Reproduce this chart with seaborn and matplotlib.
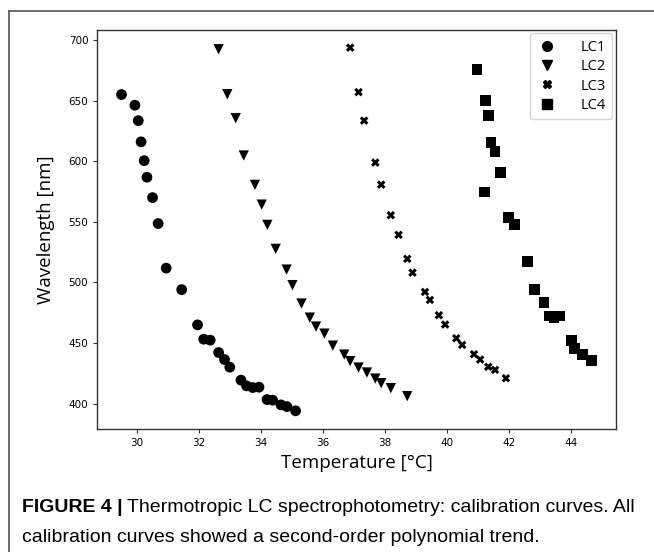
import matplotlib
matplotlib.use("Agg")
import matplotlib.pyplot as plt
import seaborn as sns
import pandas as pd
from matplotlib.lines import Line2D

lc1_t = [29.51, 29.94, 30.05, 30.14, 30.24, 30.33, 30.51, 30.69, 30.95, 31.45, 31.96, 32.16, 32.37,
         32.64, 32.83, 33.00, 33.36, 33.54, 33.74, 33.94, 34.20, 34.38, 34.65, 34.84, 35.12]
lc1_w = [654.9, 646.1, 633.4, 615.9, 600.4, 586.7, 569.9, 548.5, 511.7, 494.0, 464.9, 453.1, 452.3,
         442.1, 436.3, 430.0, 419.3, 414.6, 413.2, 413.5, 403.3, 402.8, 398.9, 397.5, 394.0]
lc2_t = [32.64, 32.92, 33.19, 33.45, 33.81, 34.03, 34.21, 34.48, 34.83, 35.02, 35.31, 35.58, 35.78,
         36.05, 36.32, 36.69, 36.88, 37.15, 37.42, 37.69, 37.88, 38.19, 38.72]
lc2_w = [692.3, 655.2, 635.4, 604.6, 580.4, 564.1, 547.4, 527.6, 510.5, 497.7, 482.5, 470.9, 463.5,
         457.7, 447.8, 440.4, 435.0, 429.7, 425.6, 420.6, 416.8, 412.7, 406.1]
lc3_t = [36.88, 37.15, 37.33, 37.69, 37.88, 38.19, 38.44, 38.72, 38.89, 39.29, 39.45, 39.74, 39.94,
         40.30, 40.49, 40.87, 41.07, 41.33, 41.55, 41.90]
lc3_w = [693.6, 656.9, 633.4, 598.8, 580.6, 555.4, 539.2, 519.4, 508.0, 492.1, 485.5, 472.9, 465.2,
         453.9, 448.4, 440.7, 436.3, 430.3, 427.8, 420.9]
lc4_t = [40.97, 41.24, 41.33, 41.42, 41.55, 41.72, 41.21, 41.99, 42.18, 42.59, 42.83, 43.13, 43.30,
         43.45, 43.63, 44.01, 44.11, 44.36, 44.67]
lc4_w = [675.8, 649.7, 637.9, 615.3, 608.2, 590.5, 574.6, 553.7, 548.0, 517.1, 494.4, 483.6, 472.3,
         471.3, 472.3, 452.3, 445.7, 440.7, 435.5]

series_names = ["LC1", "LC2", "LC3", "LC4"]
x_ticks = [30, 32, 34, 36, 38, 40, 42, 44]
y_ticks = [400, 450, 500, 550, 600, 650, 700]
caption_bold = "FIGURE 4 |"
caption_line1 = "Thermotropic LC spectrophotometry: calibration curves. All"
caption_line2 = "calibration curves showed a second-order polynomial trend."

frames = []
for name, t, w in zip(series_names, [lc1_t, lc2_t, lc3_t, lc4_t], [lc1_w, lc2_w, lc3_w, lc4_w]):
    frames.append(pd.DataFrame({"Temperature": t, "Wavelength": w, "series": name}))
df = pd.concat(frames, ignore_index=True)

markers = {"LC1": "o", "LC2": "v", "LC3": "X", "LC4": "s"}
sizes = {"LC1": 60, "LC2": 55, "LC3": 38, "LC4": 60}

W, H = 654, 552
fig = plt.figure(figsize=(W / 100, H / 100), dpi=100)
ax = fig.add_axes([0.1488, 0.2228, 0.7932, 0.7236])

for name in series_names:
    sub = df[df["series"] == name]
    sns.scatterplot(data=sub, x="Temperature", y="Wavelength", marker=markers[name],
                    color="black", edgecolor="none", s=sizes[name], ax=ax, legend=False)

ax.set_xlim(28.73, 45.45)
ax.set_ylim(379, 708.5)
ax.set_xticks(x_ticks)
ax.set_yticks(y_ticks)
ax.tick_params(labelsize=7.5, length=3, width=0.8, color="#333333")
for sp in ax.spines.values():
    sp.set_color("#333333")
    sp.set_linewidth(1.0)
ax.set_xlabel("Temperature [°C]", fontsize=13.5, family="Open Sans", labelpad=4)
ax.set_ylabel("Wavelength [nm]", fontsize=13.5, family="Open Sans", labelpad=10)

handles = [Line2D([], [], marker=markers[n], color="black", linestyle="none",
                  markersize=7 if n != "LC3" else 6) for n in series_names]
ax.legend(handles, series_names, loc="upper right", markerfirst=True,
          handletextpad=1.6, borderpad=0.45, labelspacing=0.3, handlelength=1.4,
          borderaxespad=0.25, prop={"family": "Open Sans", "size": 10.5})

# figure frame lines
fig.add_artist(Line2D([9 / W, 1.0], [1 - 11 / H, 1 - 11 / H], transform=fig.transFigure,
                      color="#555555", linewidth=1.2))
fig.add_artist(Line2D([9 / W, 9 / W], [0, 1 - 11 / H], transform=fig.transFigure,
                      color="#555555", linewidth=1.2))

# caption: size chosen so that line 1 spans the same width as the reference
cap_font = "Liberation Sans"
fs = 14.0
renderer = fig.canvas.get_renderer()
tb = fig.text(22 / W, 1 - 508 / H, caption_bold, fontsize=fs, fontweight="bold",
              family=cap_font, va="center", ha="left")
t1 = fig.text(0, 1 - 508 / H, caption_line1, fontsize=fs, family=cap_font, va="center", ha="left")
wb = tb.get_window_extent(renderer).width
w1 = t1.get_window_extent(renderer).width
target = 636 - 22
scale = target / (wb + 4 + w1)
fs2 = fs * scale
tb.set_fontsize(fs2)
t1.set_fontsize(fs2)
wb = tb.get_window_extent(renderer).width
t1.set_x((22 + wb + 4) / W)
fig.text(22 / W, 1 - 537 / H, caption_line2, fontsize=fs2, family=cap_font,
         va="center", ha="left")

fig.savefig("out.png", dpi=100)
